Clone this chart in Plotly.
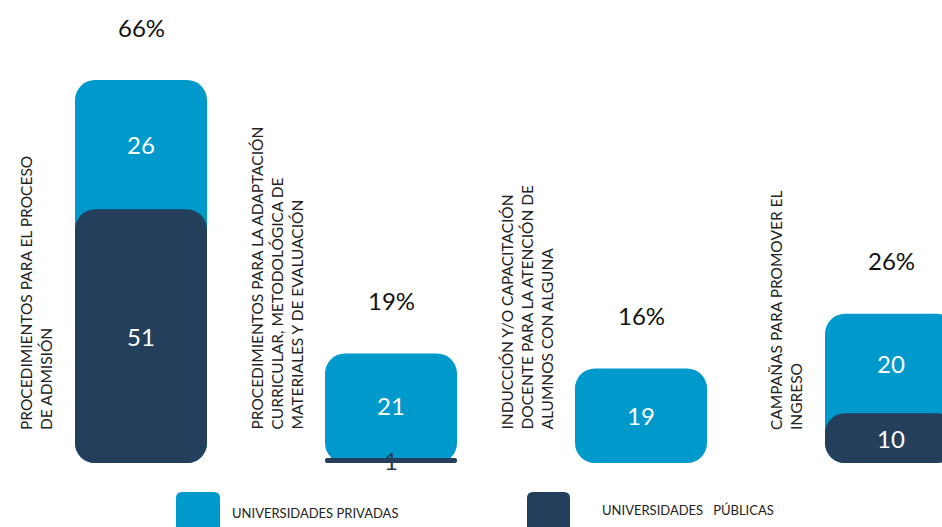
import plotly.graph_objects as go

categorias = [
    "PROCEDIMIENTOS PARA EL PROCESO<br>DE ADMISIÓN",
    "PROCEDIMIENTOS PARA LA ADAPTACIÓN<br>CURRICULAR, METODOLÓGICA DE<br>MATERIALES Y DE EVALUACIÓN",
    "INDUCCIÓN Y/O CAPACITACIÓN<br>DOCENTE PARA LA ATENCIÓN DE<br>ALUMNOS CON ALGUNA",
    "CAMPAÑAS PARA PROMOVER EL<br>INGRESO",
]
privadas = [26, 21, 19, 20]
publicas = [51, 1, 0, 10]
porcentajes = ["66%", "19%", "16%", "26%"]
serie_nombres = ["UNIVERSIDADES PRIVADAS", "UNIVERSIDADES&nbsp;&nbsp;&nbsp;PÚBLICAS"]

LIGHT = "#0099CB"
DARK = "#243F5C"
FONT = "Lato"
W = 0.528
R = 20
Y_MAX = 93.1

totales = [a + b for a, b in zip(privadas, publicas)]

fig = go.Figure()

# light (privadas) spans the full stack behind, dark (publicas) drawn on top
fig.add_bar(x=categorias, base=[0] * len(totales), y=totales,
            width=W, marker=dict(color=LIGHT, cornerradius=R, line=dict(width=0)),
            hoverinfo="skip", name=serie_nombres[0])
fig.add_bar(x=categorias, base=[0] * len(publicas), y=publicas,
            width=W, marker=dict(color=DARK, cornerradius=R, line=dict(width=0)),
            hoverinfo="skip", name=serie_nombres[1])

annotations = []
for c, pr, pu, t, pct in zip(categorias, privadas, publicas, totales, porcentajes):
    annotations.append(dict(x=c, y=pu + pr / 2, xref="x", yref="y", text=str(pr),
                            showarrow=False, font=dict(family=FONT, size=24, color="white")))
    if pu > 0:
        small = pu / Y_MAX * 463 < 28
        annotations.append(dict(x=c, y=pu / 2, xref="x", yref="y", text=str(pu),
                                showarrow=False,
                                font=dict(family=FONT, size=24,
                                          color=DARK if small else "white")))
    annotations.append(dict(x=c, y=t, xref="x", yref="y", text=pct, yshift=53,
                            showarrow=False, font=dict(family=FONT, size=24, color="#111111")))
    annotations.append(dict(x=c, y=0, xref="x", yref="y", text=c, textangle=-90,
                            xanchor="right", yanchor="bottom", xshift=-84, yshift=31,
                            align="left", showarrow=False,
                            font=dict(family=FONT, size=15.5, color="#222222")))

# custom legend
PW, PH = 942.0, 463.0
def swatch(x0px, x1px, ytop_px, color):
    r = 6
    X0, X1 = x0px / PW, x1px / PW
    YT = (PH - ytop_px) / PH
    YB = (PH - 540) / PH
    rx, ry = r / PW, r / PH
    path = (f"M {X0} {YB} L {X0} {YT - ry} Q {X0} {YT} {X0 + rx} {YT} "
            f"L {X1 - rx} {YT} Q {X1} {YT} {X1} {YT - ry} L {X1} {YB} Z")
    return dict(type="path", xref="paper", yref="paper", path=path,
                fillcolor=color, line=dict(width=0), layer="above")

shapes = [swatch(176, 220, 492, LIGHT), swatch(527, 570, 492, DARK)]
annotations.append(dict(x=230 / PW, y=(PH - 513) / PH, xref="paper", yref="paper",
                        text=serie_nombres[0], xanchor="left", yanchor="middle",
                        showarrow=False, font=dict(family=FONT, size=13, color="#222222")))
annotations.append(dict(x=600 / PW, y=(PH - 510) / PH, xref="paper", yref="paper",
                        text=serie_nombres[1], xanchor="left", yanchor="middle",
                        showarrow=False, font=dict(family=FONT, size=13, color="#222222")))

fig.update_layout(
    width=942, height=527,
    margin=dict(l=0, r=0, t=0, b=64),
    paper_bgcolor="white", plot_bgcolor="white",
    barmode="overlay", showlegend=False,
    xaxis=dict(visible=False, range=[-0.564, 3.204]),
    yaxis=dict(visible=False, range=[0, Y_MAX]),
    annotations=annotations, shapes=shapes,
    font=dict(family=FONT),
)

fig.write_html("out.html", config={"displayModeBar": False},
               post_script="document.body.style.margin='0';")
